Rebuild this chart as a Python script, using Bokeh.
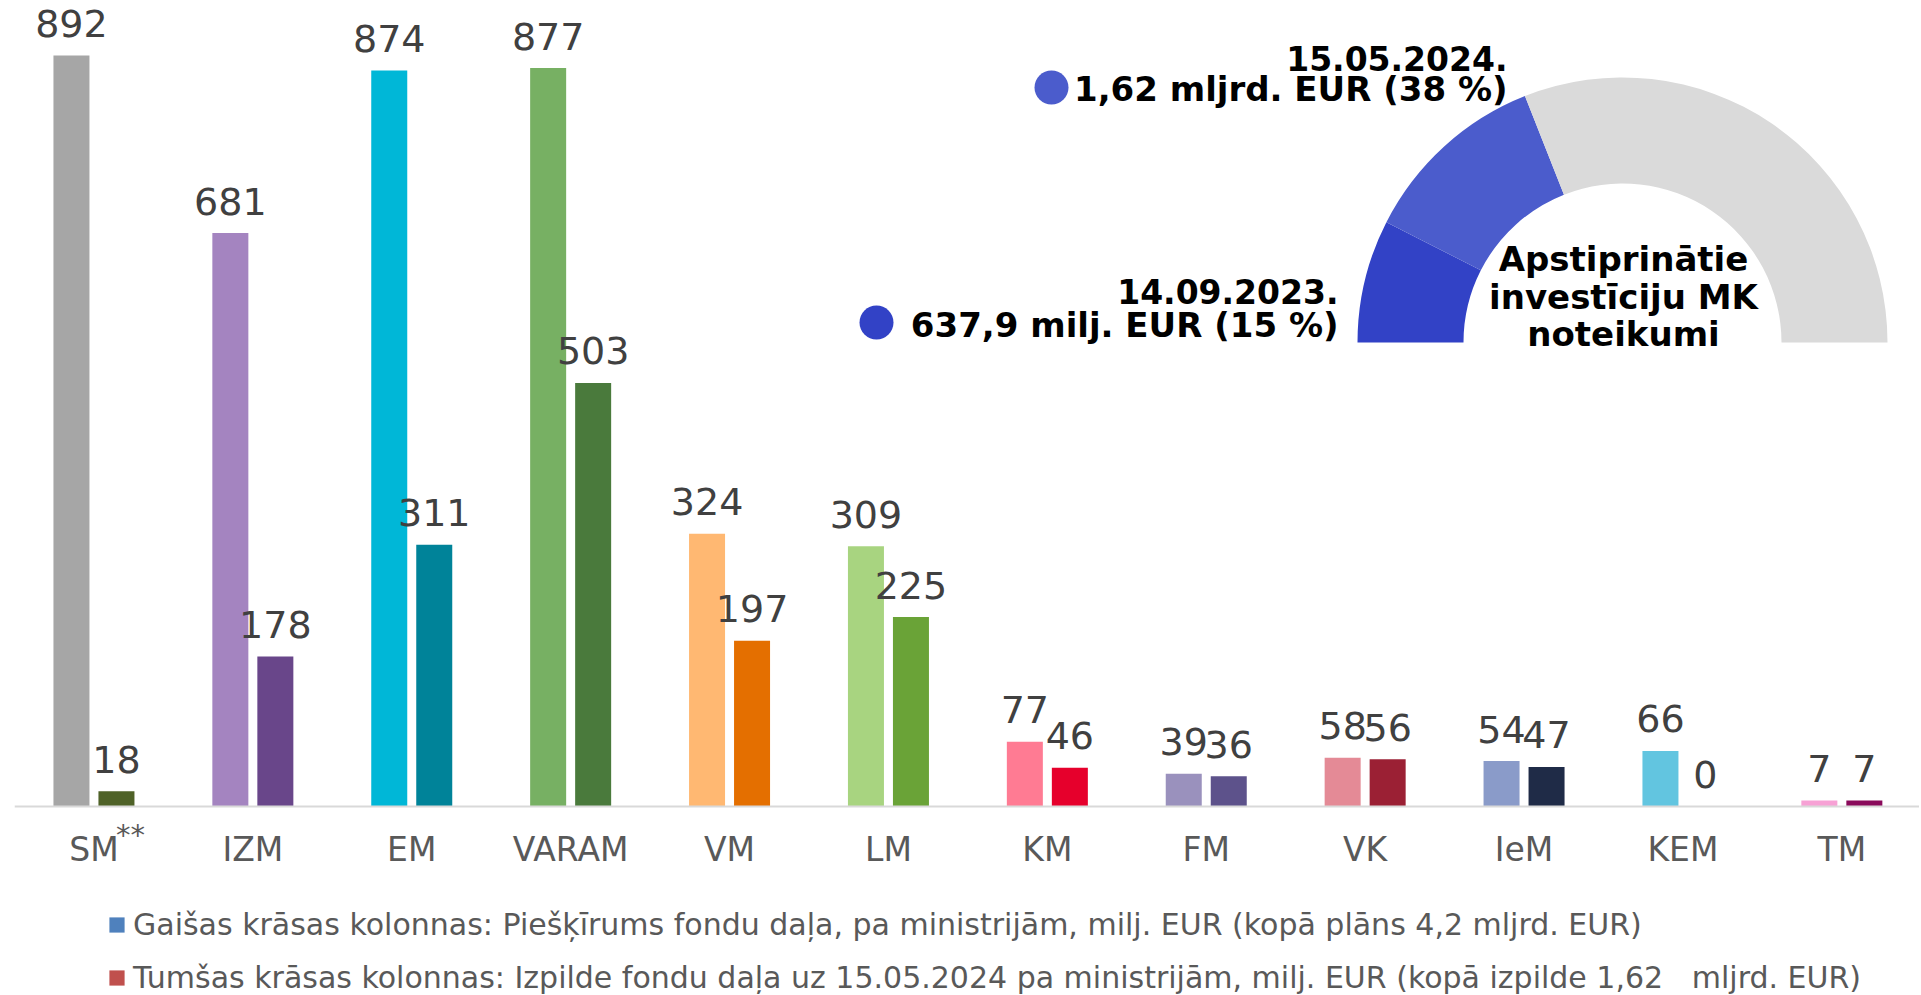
from math import pi
from bokeh.plotting import figure
from bokeh.models import Range1d, FixedTicker, ColumnDataSource, Legend, LegendItem
from bokeh.core.properties import value
from bokeh.transform import dodge
from bokeh.embed import file_html
from bokeh.resources import INLINE

# ---------------- data ----------------
categories = ["SM", "IZM", "EM", "VARAM", "VM", "LM", "KM", "FM", "VK", "IeM", "KEM", "TM"]
allocated = [892, 681, 874, 877, 324, 309, 77, 39, 58, 54, 66, 7]
executed = [18, 178, 311, 503, 197, 225, 46, 36, 56, 47, 0, 7]
light_colors = ["#A6A6A6", "#A484C0", "#00B7D7", "#77B063", "#FFB872", "#A8D480",
                "#FF7B93", "#9A91BD", "#E48A96", "#8A9BC9", "#62C5E0", "#F7A1D5"]
dark_colors = ["#4F6228", "#69468A", "#008399", "#4A7A3C", "#E46F00", "#6AA337",
               "#E6002C", "#5D528B", "#9B2034", "#1F2B47", "#2C8FAD", "#8A0A5B"]
legend_labels = [
    "Gaišas krāsas kolonnas: Piešķīrums fondu daļa, pa ministrijām, milj. EUR (kopā plāns 4,2 mljrd. EUR)",
    "Tumšas krāsas kolonnas: Izpilde fondu daļa uz 15.05.2024 pa ministrijām, milj. EUR (kopā izpilde 1,62\u00a0\u00a0 mljrd. EUR)",
]
legend_colors = ["#4F81BD", "#C0504D"]
footnote_category = "SM"
footnote_text = "**"

gauge_pct = [15, 38]                       # cumulative share approved
gauge_dates = ["14.09.2023.", "15.05.2024."]
gauge_amounts = ["637,9 milj. EUR (15 %)", "1,62 mljrd. EUR (38 %)"]
gauge_colors = ["#3242C6", "#4B5CCC", "#DADADA"]
gauge_title = ["Apstiprinātie", "investīciju MK", "noteikumi"]

# ---------------- layout constants (page pixels) ----------------
FRAME_LEFT = 14
FRAME_TOP = 8
FRAME_W = 1905
FRAME_H = 986
BASELINE = 806           # page y of value 0
CAT_PX = 158.9
PX_PER_UNIT = 0.842
BAR_W = 0.2266
LIGHT_OFF = -0.1416
DARK_OFF = 0.1416
BASE_FIX = 0.35          # renderer's alphabetic baseline sits this many em too low

x_range = Range1d(-0.5, -0.5 + FRAME_W / CAT_PX)
y_range = Range1d(-(FRAME_TOP + FRAME_H - BASELINE) / PX_PER_UNIT,
                  (BASELINE - FRAME_TOP) / PX_PER_UNIT)

p = figure(frame_width=FRAME_W, frame_height=FRAME_H, x_range=x_range, y_range=y_range,
           output_backend="svg", toolbar_location=None, y_axis_location=None,
           min_border_left=FRAME_LEFT, min_border_right=0,
           min_border_top=FRAME_TOP, min_border_bottom=0)
p.outline_line_color = None
p.xgrid.visible = False
p.ygrid.visible = False
p.background_fill_color = "white"

# pixel-space ranges (page coordinates) for the gauge overlay
p.extra_x_ranges = {"px": Range1d(FRAME_LEFT, FRAME_LEFT + FRAME_W)}
p.extra_y_ranges = {"py": Range1d(FRAME_TOP + FRAME_H, FRAME_TOP)}

src = ColumnDataSource(dict(
    x=list(range(len(categories))),
    allocated=allocated, executed=executed,
    alloc_txt=[str(v) for v in allocated], exec_txt=[str(v) for v in executed],
    light=light_colors, dark=dark_colors,
))

p.vbar(x=dodge("x", LIGHT_OFF), top="allocated", width=BAR_W, fill_color="light",
       line_color=None, source=src)
p.vbar(x=dodge("x", DARK_OFF), top="executed", width=BAR_W, fill_color="dark",
       line_color=None, source=src)

VAL_FS = 38
lbl_kw = dict(text_align="center", text_baseline="alphabetic",
              y_offset=-19 - round(BASE_FIX * VAL_FS),
              text_font=value("DejaVu Sans"), text_font_size=f"{VAL_FS}px", text_color="#404040")
p.text(x=dodge("x", LIGHT_OFF), y="allocated", text="alloc_txt", source=src, **lbl_kw)
p.text(x=dodge("x", DARK_OFF), y="executed", text="exec_txt", source=src, **lbl_kw)

# x axis at value 0
ax = p.xaxis[0]
ax.fixed_location = 0
ax.ticker = FixedTicker(ticks=list(range(len(categories))))
ax.major_label_overrides = {i: c for i, c in enumerate(categories)}
ax.axis_line_color = "#D9D9D9"
ax.axis_line_width = 2
ax.major_tick_line_color = None
ax.minor_tick_line_color = None
ax.major_tick_out = 0
ax.major_tick_in = 0
ax.major_label_standoff = 23
ax.major_label_text_font = "DejaVu Sans"
ax.major_label_text_font_size = "33px"
ax.major_label_text_color = "#595959"

# footnote marker next to SM
p.text(x=[categories.index(footnote_category)], y=[0], text=[footnote_text],
       x_offset=22, y_offset=28, text_align="left", text_baseline="alphabetic",
       text_font=value("DejaVu Sans"), text_font_size="29px", text_color="#595959")

# legend (zero-height swatch renderers carrying the legend colours)
swatch_src = [ColumnDataSource(dict(x=[0], top=[0], color=[c])) for c in legend_colors]
swatches = [p.vbar(x="x", top="top", bottom=0, width=0.001, fill_color="color",
                   line_color=None, source=s) for s in swatch_src]
legend = Legend(items=[LegendItem(label=l, renderers=[r]) for l, r in zip(legend_labels, swatches)],
                location=(93, -1), orientation="vertical", padding=0, margin=0,
                spacing=18, glyph_width=19, glyph_height=19, label_standoff=7,
                label_height=35, label_text_font="DejaVu Sans", label_text_font_size="30px",
                label_text_color="#595959", border_line_color=None, background_fill_alpha=0)
p.add_layout(legend)

# ---------------- gauge (page-pixel coordinates) ----------------
GX, GY = 1622, 342
R_IN, R_OUT = 159, 265
bounds = [0] + gauge_pct + [100]
gsrc = ColumnDataSource(dict(
    start=[pi * (1 - b / 100) for b in bounds[1:]],
    end=[pi * (1 - b / 100) for b in bounds[:-1]],
    color=gauge_colors,
))
p.annular_wedge(x=GX, y=GY, inner_radius=R_IN, outer_radius=R_OUT,
                inner_radius_units="screen", outer_radius_units="screen",
                start_angle="start", end_angle="end", fill_color="color",
                line_color=None, source=gsrc, x_range_name="px", y_range_name="py")

bold = dict(text_font=value("DejaVu Sans"), text_font_style="bold", text_color="#000000",
            x_range_name="px", y_range_name="py", text_baseline="alphabetic")
# label blocks: (right edge x, date baseline y, amount baseline y, dot x, dot y)
LBL_POS = [(1338, 303, 336, 876, 322), (1507, 70, 100, 1051, 87)]
DATE_FS, AMT_FS, TITLE_FS = 33, 34, 34
p.text(x=[q[0] for q in LBL_POS], y=[q[1] for q in LBL_POS], text=gauge_dates,
       text_align="right", text_font_size=f"{DATE_FS}px",
       y_offset=-round(BASE_FIX * DATE_FS), **bold)
p.text(x=[q[0] for q in LBL_POS], y=[q[2] for q in LBL_POS], text=gauge_amounts,
       text_align="right", text_font_size=f"{AMT_FS}px",
       y_offset=-round(BASE_FIX * AMT_FS), **bold)
p.scatter(x=[q[3] for q in LBL_POS], y=[q[4] for q in LBL_POS], size=34,
          color=gauge_colors[:2], line_color=None, x_range_name="px", y_range_name="py")
p.text(x=[GX + 1] * 3, y=[270, 308, 345], text=gauge_title, text_align="center",
       text_font_size=f"{TITLE_FS}px", y_offset=-round(BASE_FIX * TITLE_FS), **bold)

open("out.html", "w").write(file_html(p, INLINE))
